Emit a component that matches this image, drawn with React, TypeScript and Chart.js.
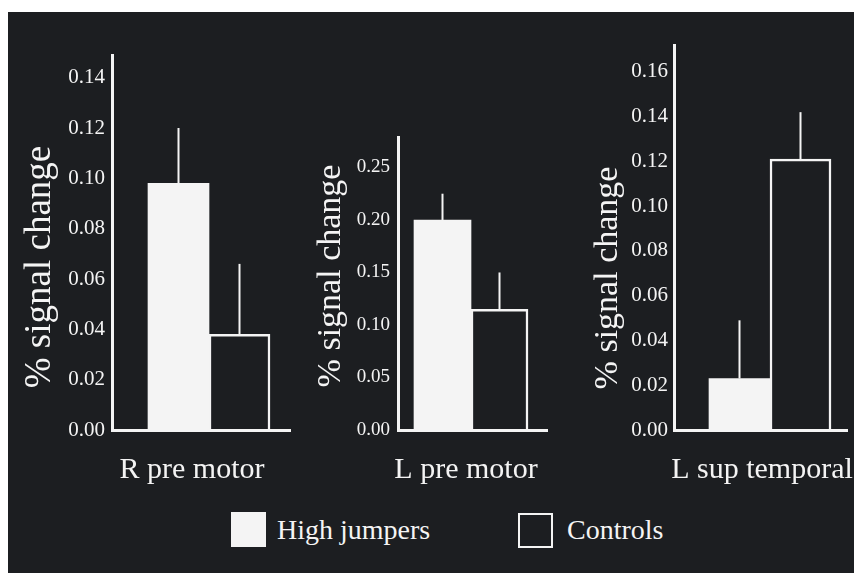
import React, { useEffect, useRef } from 'react';
import { Chart, registerables } from 'chart.js';

Chart.register(...registerables);

// ---- data ----
const regions = ['R pre motor', 'L pre motor', 'L sup temporal'];
const seriesNames = ['High jumpers', 'Controls'];
const highJumpers = [0.098, 0.2, 0.023];
const highJumpersErr = [0.022, 0.025, 0.026];
const controls = [0.038, 0.115, 0.121];
const controlsErr = [0.028, 0.035, 0.021];
const yMax = [0.149, 0.279, 0.172];
const yStep = [0.02, 0.05, 0.02];
const yTitle = '% signal change';

// ---- style ----
const BG = '#1c1e21';
const FG = '#f4f4f4';
const SERIF = '"Liberation Serif", serif';

type Layout = {
  left: number; top: number; width: number; height: number;
  padTop: number; padRight: number; padBottom: number; yWidth: number;
  xMax: number; barThickness: number;
  tickSize: number; tickPad: number;
  titleSize: number; titleX: number; titleY: number;
  labelSize: number; labelX: number; labelY: number;
};

const layouts: Layout[] = [
  { left: 8, top: 12, width: 284, height: 488, padTop: 43, padRight: 2, padBottom: 70, yWidth: 104,
    xMax: 0.835, barThickness: 61, tickSize: 21, tickPad: 7,
    titleSize: 37, titleX: 40, titleY: 267, labelSize: 30, labelX: 192, labelY: 478 },
  { left: 300, top: 12, width: 249, height: 488, padTop: 125, padRight: 2, padBottom: 70, yWidth: 98,
    xMax: 1.041, barThickness: 57, tickSize: 19, tickPad: 8,
    titleSize: 34, titleX: 331, titleY: 276, labelSize: 30, labelX: 466, labelY: 478 },
  { left: 578, top: 12, width: 276, height: 488, padTop: 33, padRight: 7, padBottom: 70, yWidth: 96,
    xMax: 0.802, barThickness: 61, tickSize: 21, tickPad: 6,
    titleSize: 34, titleX: 608, titleY: 278, labelSize: 30, labelX: 762, labelY: 478 },
];

const errorBarPlugin = {
  id: 'errorBars',
  afterDatasetsDraw(chart: any, _args: any, opts: any) {
    const ctx = chart.ctx;
    const yScale = chart.scales.y;
    chart.data.datasets.forEach((ds: any, di: number) => {
      const meta = chart.getDatasetMeta(di);
      meta.data.forEach((bar: any, i: number) => {
        const v = ds.data[i].y;
        const e = opts.errors[di][i];
        const yTop = yScale.getPixelForValue(v + e);
        ctx.save();
        ctx.strokeStyle = opts.color;
        ctx.lineWidth = opts.width;
        ctx.beginPath();
        ctx.moveTo(bar.x, bar.y);
        ctx.lineTo(bar.x, yTop);
        ctx.stroke();
        ctx.restore();
      });
    });
  },
};

const panelTextPlugin = {
  id: 'panelText',
  afterDraw(chart: any, _args: any, opts: any) {
    const ctx = chart.ctx;
    ctx.save();
    ctx.fillStyle = opts.color;
    ctx.font = `${opts.labelSize}px ${SERIF}`;
    ctx.textAlign = 'center';
    ctx.textBaseline = 'alphabetic';
    ctx.fillText(opts.label, opts.labelX, opts.labelY);
    ctx.translate(opts.titleX, opts.titleY);
    ctx.rotate(-Math.PI / 2);
    ctx.font = `${opts.titleSize}px ${SERIF}`;
    ctx.textBaseline = 'middle';
    ctx.fillText(opts.title, 0, 0);
    ctx.restore();
  },
};

function Panel({ idx }: { idx: number }) {
  const ref = useRef<HTMLCanvasElement>(null);
  const L = layouts[idx];
  useEffect(() => {
    if (!ref.current) return;
    const chart = new Chart(ref.current, {
      type: 'bar',
      data: {
        datasets: [
          {
            label: seriesNames[0],
            data: [{ x: 0, y: highJumpers[idx] }],
            backgroundColor: FG,
            borderWidth: 0,
            barThickness: L.barThickness,
          },
          {
            label: seriesNames[1],
            data: [{ x: 0, y: controls[idx] }],
            backgroundColor: BG,
            borderColor: FG,
            borderWidth: 2.5,
            barThickness: L.barThickness,
          },
        ] as any,
      },
      options: {
        responsive: false,
        animation: false,
        layout: { padding: { top: L.padTop, right: L.padRight, bottom: L.padBottom, left: 0 } },
        scales: {
          x: {
            type: 'linear',
            min: -1,
            max: L.xMax,
            offset: false,
            grid: { display: false, drawTicks: false },
            ticks: { display: false },
            border: { display: true, color: FG, width: 3, z: 1 },
          },
          y: {
            type: 'linear',
            min: 0,
            max: yMax[idx],
            ticks: {
              stepSize: yStep[idx],
              includeBounds: false,
              padding: L.tickPad,
              color: FG,
              font: { family: SERIF, size: L.tickSize },
              callback: (v: any) => Number(v).toFixed(2),
            },
            grid: { display: false, drawTicks: false },
            border: { display: true, color: FG, width: 3 },
            afterFit: (s: any) => { s.width = L.yWidth; },
          },
        },
        plugins: {
          legend: { display: false },
          tooltip: { enabled: false },
          errorBars: { errors: [[highJumpersErr[idx]], [controlsErr[idx]]], color: FG, width: 2 },
          panelText: {
            color: FG,
            label: regions[idx],
            labelSize: L.labelSize,
            labelX: L.labelX - L.left,
            labelY: L.labelY - L.top,
            title: yTitle,
            titleSize: L.titleSize,
            titleX: L.titleX - L.left,
            titleY: L.titleY - L.top,
          },
        } as any,
      } as any,
      plugins: [errorBarPlugin, panelTextPlugin],
    });
    return () => chart.destroy();
  }, [idx]);
  return (
    <canvas
      ref={ref}
      width={L.width}
      height={L.height}
      style={{ position: 'absolute', left: L.left, top: L.top, width: L.width, height: L.height }}
    />
  );
}

export default function App() {
  const legendText: React.CSSProperties = {
    position: 'absolute', color: FG, fontFamily: SERIF, fontSize: 28, lineHeight: '35px', whiteSpace: 'nowrap',
  };
  return (
    <div style={{ position: 'fixed', left: 0, top: 0, right: 0, bottom: 0, background: '#ffffff', overflow: 'hidden' }}>
      <div style={{ position: 'absolute', left: 8, top: 12, right: 0, bottom: 0, background: BG }} />
      {layouts.map((_, i) => <Panel key={i} idx={i} />)}
      <div style={{ position: 'absolute', left: 231, top: 512, width: 35, height: 35, background: FG }} />
      <div style={{ ...legendText, left: 277, top: 512 }}>{seriesNames[0]}</div>
      <div style={{ position: 'absolute', left: 518, top: 513, width: 31, height: 31, border: `2px solid ${FG}`, background: BG }} />
      <div style={{ ...legendText, left: 567, top: 512 }}>{seriesNames[1]}</div>
    </div>
  );
}
